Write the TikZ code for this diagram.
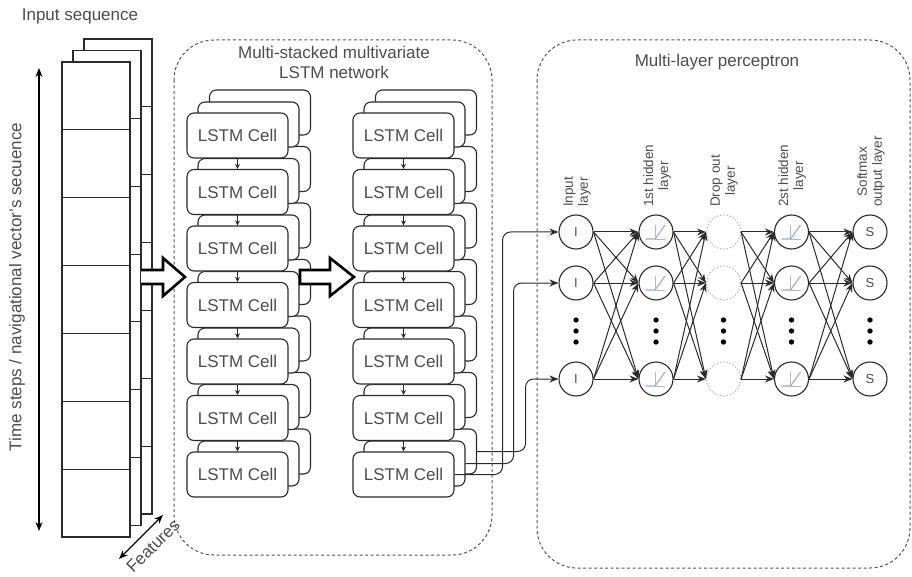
\documentclass[tikz,border=0pt]{standalone}
\usepackage{fontspec}
\setmainfont{Liberation Sans}
\usetikzlibrary{arrows.meta,calc}
\definecolor{txtgray}{HTML}{4D4D4D}
\definecolor{lngray}{HTML}{2B2B2B}
\definecolor{dashgray}{HTML}{555555}
\definecolor{relublue}{HTML}{8AB0DE}
\definecolor{axisgray}{HTML}{B8B8B8}
\begin{document}
\begin{tikzpicture}[x=1pt,y=-1pt,
  lbl/.style={text=txtgray, font=\fontsize{17}{20}\selectfont, inner sep=0pt},
  smalllbl/.style={text=txtgray, font=\fontsize{13.5}{15}\selectfont, inner sep=0pt, align=center},
  seqbox/.style={draw=lngray, fill=white, line width=1.1pt, minimum width=68pt, minimum height=67.86pt, inner sep=0pt},
  cellbox/.style={draw=lngray, fill=white, line width=1.1pt, rounded corners=7pt, minimum width=101pt, minimum height=45pt, inner sep=0pt, text=txtgray, font=\fontsize{17}{20}\selectfont},
  groupbox/.style={draw=dashgray, dash pattern=on 3pt off 2.5pt, line width=1pt, rounded corners=40pt},
  neuron/.style={circle, draw=lngray, line width=1.1pt, fill=white, minimum size=34pt, inner sep=0pt, text=txtgray, font=\fontsize{13}{14}\selectfont},
  dropn/.style={circle, draw=axisgray, dotted, line width=1.2pt, fill=white, minimum size=34pt, inner sep=0pt},
  link/.style={draw=lngray, line width=1pt, -{Stealth[length=9pt,width=7pt]}},
  cellarrow/.style={draw=lngray, line width=1pt, -{Stealth[length=5pt,width=5pt]}},
  dblarrow/.style={draw=black, line width=1.1pt, {Stealth[length=9pt,width=7pt]}-{Stealth[length=9pt,width=7pt]}},
  blockarrow/.style={draw=black, fill=white, line width=2.6pt, line join=miter},
]
\useasboundingbox (0,0) rectangle (912,577);

% group boxes
\draw[groupbox] (174,40) rectangle (492,555);
\draw[groupbox] (537,40) rectangle (910,568);
\node[lbl, align=center] (tlstm) at (334,62) {Multi-stacked multivariate\\LSTM network};
\node[lbl] (tmlp) at (717,62) {Multi-layer perceptron};

% input sequence stack
\node[lbl] (tin) at (80,16) {Input sequence};
\foreach \l in {2,1,0}{
  \foreach \i in {1,...,7}{
    \node[seqbox] (s\l-\i) at ({96+11*\l},{95.93-11.5*\l+67.86*(\i-1)}) {};
  }
}
\coordinate (ta) at (39,68);
\coordinate (tb) at (39,531);
\draw[dblarrow] (ta) -- (tb);
\node[lbl, rotate=90] (ttime) at (17,287) {Time steps / navigational vector's secuence};
\coordinate (fa) at (163,515);
\coordinate (fb) at (119,559);
\draw[dblarrow] (fa) -- (fb);
\node[lbl, rotate=45] (tfeat) at (153,546) {Features};

% LSTM cells
\foreach \c in {0,1}{
  \foreach \i in {1,...,7}{
    \node[cellbox] (c\c-2-\i) at ({237.5+166*\c+22.5},{135.5+56.5*(\i-1)-23}) {};
  }
}
\foreach \c in {0,1}{
  \foreach \i in {1,...,7}{
    \node[cellbox] (c\c-1-\i) at ({237.5+166*\c+11},{135.5+56.5*(\i-1)-11}) {};
  }
}
\foreach \c in {0,1}{
  \foreach \i in {1,...,7}{
    \node[cellbox] (c\c-0-\i) at ({237.5+166*\c},{135.5+56.5*(\i-1)}) {LSTM Cell};
  }
}
\foreach \c in {0,1}{
  \foreach \i [evaluate=\i as \j using int(\i+1)] in {1,...,6}{
    \draw[cellarrow] (c\c-0-\i.south) -- (c\c-0-\j.north);
  }
}

% block arrows
\draw[blockarrow] (141,270) -- (163,270) -- (163,258) -- (185,277) -- (163,296) -- (163,284) -- (141,284);
\draw[blockarrow] (300,270) -- (330,270) -- (330,258) -- (354,277) -- (330,296) -- (330,284) -- (300,284) -- cycle;

% neurons
\foreach \r/\y in {1/232,2/283,3/379}{
  \node[neuron] (n1-\r) at (576,\y) {I};
  \node[neuron] (n2-\r) at (656,\y) {};
  \node[dropn] (n3-\r) at (723.5,\y) {};
  \node[neuron] (n4-\r) at (791.5,\y) {};
  \node[neuron] (n5-\r) at (870,\y) {S};
}
\foreach \k in {2,4}{
  \foreach \r in {1,2,3}{
    \draw[axisgray, line width=0.8pt] ($(n\k-\r.center)+(-1,-7)$) -- ++(0,14) -- ++(10,0);
    \draw[relublue, line width=1.1pt] ($(n\k-\r.center)+(-10,7)$) -- ++(9,0) -- ++(10,-14);
  }
}
\foreach \x in {576,656,723.5,791.5,870}{
  \foreach \y in {320,331,342}{
    \fill[black] (\x,\y) circle (2.7);
  }
}
\foreach \k [evaluate=\k as \kk using int(\k+1)] in {1,2,3,4}{
  \foreach \a in {1,2,3}{
    \foreach \b in {1,2,3}{
      \draw[link] (n\k-\a.east) -- (n\kk-\b.west);
    }
  }
}

% LSTM -> input layer
\draw[link, rounded corners=8pt] (c1-0-7.east) -- ++(48,0) |- (n1-1.west);
\draw[link, rounded corners=8pt] (c1-1-7.east) -- ++(48,0) |- (n1-2.west);
\draw[link, rounded corners=8pt] (c1-2-7.east) -- ++(48.5,0) |- (n1-3.west);

% layer labels
\node[smalllbl, rotate=90, anchor=west] (l1) at (577,207) {Input\\layer};
\node[smalllbl, rotate=90, anchor=west] (l2) at (657,207) {1st hidden\\layer};
\node[smalllbl, rotate=90, anchor=west] (l3) at (724,207) {Drop out\\layer};
\node[smalllbl, rotate=90, anchor=west] (l4) at (792,207) {2st hidden\\layer};
\node[smalllbl, rotate=90, anchor=west] (l5) at (871,207) {Softmax\\output layer};
\end{tikzpicture}
\end{document}
